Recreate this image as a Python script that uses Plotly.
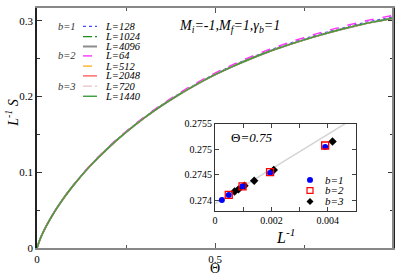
import plotly.graph_objects as go

# ---------------- data ----------------
theta = [0, 0.01, 0.025, 0.05, 0.075, 0.1, 0.15, 0.2, 0.25, 0.3, 0.35, 0.4, 0.45,
         0.5, 0.55, 0.6, 0.65, 0.7, 0.75, 0.8, 0.85, 0.9, 0.95, 1.0]
S_large = [0, 0.0133, 0.0281, 0.0485, 0.0659, 0.0815, 0.1088, 0.1322, 0.1529, 0.1714,
           0.1880, 0.2030, 0.2166, 0.2290, 0.2400, 0.2500, 0.2592, 0.2674, 0.2749,
           0.2818, 0.2882, 0.2940, 0.2990, 0.3035]
S_L128 = [0, 0.0133, 0.0281, 0.0486, 0.0660, 0.0817, 0.1091, 0.1326, 0.1534, 0.1720,
          0.1887, 0.2038, 0.2175, 0.2300, 0.2411, 0.2512, 0.2605, 0.2688, 0.2763,
          0.2833, 0.2897, 0.2956, 0.3007, 0.3052]
S_L64 = [0, 0.0134, 0.0282, 0.0487, 0.0662, 0.0820, 0.1095, 0.1331, 0.1540, 0.1727,
         0.1895, 0.2047, 0.2185, 0.2311, 0.2423, 0.2525, 0.2619, 0.2703, 0.2779,
         0.2850, 0.2915, 0.2975, 0.3027, 0.3073]

series = [
    # name, values, color, width, dash
    ("L=128", S_L128, "#4b4bff", 1.2, "dot"),
    ("L=1024", S_large, "#1e8c1e", 1.2, "dashdot"),
    ("L=4096", S_large, "#8c8c8c", 2.0, "solid"),
    ("L=64", S_L64, "#ff33ff", 1.4, "dash"),
    ("L=512", S_large, "#ffa500", 1.2, "dash"),
    ("L=2048", S_large, "#ff6060", 1.4, "solid"),
    ("L=720", S_large, "#e8c0c0", 1.2, "dashdot"),
    ("L=1440", S_large, "#3c9c3c", 1.4, "solid"),
]
groups = ["b=1", None, None, "b=2", None, None, "b=3", None]

# inset data (Theta = 0.75)
invL_b1 = [1/4096, 1/2048, 1/1024, 1/512, 1/256]
S_b1 = [0.27400, 0.27410, 0.27427, 0.27453, 0.27504]
invL_b2 = [1/2048, 1/1024, 1/512, 1/256]
S_b2 = [0.27410, 0.27427, 0.27455, 0.27507]
invL_b3 = [1/1440, 1/1200, 1/960, 1/720, 1/480, 1/240]
S_b3 = [0.27417, 0.27421, 0.27428, 0.27438, 0.27459, 0.27515]
fit_x = [0, 0.00462]
fit_y = [0.27393, 0.2755]

# ---------------- figure ----------------
W, H = 395, 275
L_, R_, T_, B_ = 37, 2, 3, 27
PW, PH = W - L_ - R_, H - T_ - B_


def xp(px):
    return (px - L_) / PW


def yp(py):
    return (H - B_ - py) / PH


serif = "Liberation Serif"
fig = go.Figure()

for name, vals, col, wd, dash in series:
    fig.add_trace(go.Scatter(x=theta, y=vals, mode="lines", name=name,
                             line=dict(color=col, width=wd, dash=dash, shape="spline"),
                             xaxis="x", yaxis="y", showlegend=False))

# inset
fig.add_trace(go.Scatter(x=fit_x, y=fit_y, mode="lines", line=dict(color="#d4d4d4", width=1.5),
                         xaxis="x2", yaxis="y2", showlegend=False))
fig.add_trace(go.Scatter(x=invL_b3, y=S_b3, mode="markers",
                         marker=dict(symbol="diamond", size=6.5, color="black"),
                         xaxis="x2", yaxis="y2", showlegend=False))
fig.add_trace(go.Scatter(x=invL_b1, y=S_b1, mode="markers",
                         marker=dict(symbol="circle", size=6, color="#0000ff"),
                         xaxis="x2", yaxis="y2", showlegend=False))
fig.add_trace(go.Scatter(x=invL_b2, y=S_b2, mode="markers",
                         marker=dict(symbol="square-open", size=7, color="#ff0000",
                                     line=dict(width=1.3)),
                         xaxis="x2", yaxis="y2", showlegend=False))

ann = []
shapes = []

# main legend (drawn keys)
rows = [21.7, 32.3, 42.3, 51.9, 62.3, 72.3, 82.7, 93.1]
for (name, vals, col, wd, dash), g, r in zip(series, groups, rows):
    shapes.append(dict(type="line", xref="paper", yref="paper",
                       x0=xp(83), x1=xp(97), y0=yp(r), y1=yp(r),
                       line=dict(color=col, width=wd, dash=dash)))
    ann.append(dict(x=xp(103), y=yp(r), xref="paper", yref="paper", xanchor="left",
                    yanchor="middle", showarrow=False, text="<i>" + name + "</i>",
                    font=dict(family=serif, size=10.5, color="black")))
    if g:
        ann.append(dict(x=xp(77.5), y=yp(r), xref="paper", yref="paper", xanchor="right",
                        yanchor="middle", showarrow=False, text="<i>" + g + "</i>",
                        font=dict(family=serif, size=10.5, color="#333333")))

# right border gray
shapes.append(dict(type="line", xref="x domain", yref="y domain", x0=1, x1=1, y0=0, y1=1,
                   line=dict(color="#888888", width=2), layer="above"))

# inset legend
ileg = [("b=1", "circle", 178.5), ("b=2", "square", 189.3), ("b=3", "diamond", 200.5)]
for txt, sym, r in ileg:
    cx, cy = 310, r
    if sym == "circle":
        shapes.append(dict(type="circle", xref="paper", yref="paper",
                           x0=xp(cx - 3), x1=xp(cx + 3), y0=yp(cy + 3), y1=yp(cy - 3),
                           fillcolor="#0000ff", line=dict(width=0)))
    elif sym == "square":
        shapes.append(dict(type="rect", xref="paper", yref="paper",
                           x0=xp(cx - 3), x1=xp(cx + 3), y0=yp(cy + 3), y1=yp(cy - 3),
                           fillcolor="white", line=dict(color="#ff0000", width=1.2)))
    else:
        path = "M {} {} L {} {} L {} {} L {} {} Z".format(
            xp(cx), yp(cy - 3.5), xp(cx + 3.5), yp(cy), xp(cx), yp(cy + 3.5), xp(cx - 3.5), yp(cy))
        shapes.append(dict(type="path", xref="paper", yref="paper", path=path,
                           fillcolor="black", line=dict(width=0)))
    ann.append(dict(x=xp(323), y=yp(r), xref="paper", yref="paper", xanchor="left",
                    yanchor="middle", showarrow=False, text="<i>" + txt + "</i>",
                    font=dict(family=serif, size=11, color="black")))

# texts
ann.append(dict(x=xp(177), y=yp(22), xref="paper", yref="paper", xanchor="left", yanchor="middle",
                showarrow=False,
                text="<i>M</i><sub><i>i</i></sub><i>=-1,M</i><sub><i>f</i></sub><i>=1,γ</i><sub><i>b</i></sub><i>=1</i>",
                font=dict(family=serif, size=14, color="black")))
ann.append(dict(x=xp(229), y=yp(135), xref="paper", yref="paper", xanchor="left", yanchor="middle",
                showarrow=False, text="Θ<i>=0.75</i>",
                font=dict(family=serif, size=13, color="black")))
ann.append(dict(x=xp(285), y=yp(236), xref="paper", yref="paper", xanchor="center", yanchor="middle",
                showarrow=False, text="<i>L</i><sup><i>-1</i></sup>",
                font=dict(family=serif, size=16, color="black")))
ann.append(dict(x=xp(215), y=yp(268.5), xref="paper", yref="paper", xanchor="center", yanchor="middle",
                showarrow=False, text="Θ",
                font=dict(family=serif, size=14, color="black")))
ann.append(dict(x=xp(12), y=yp(111), xref="paper", yref="paper", xanchor="center", yanchor="middle",
                showarrow=False, textangle=-90, text="<i>L</i><sup><i>-1</i></sup><i> S</i>",
                font=dict(family=serif, size=14, color="black")))

tickfont = dict(family=serif, size=11, color="black")
fig.update_layout(
    width=W, height=H, margin=dict(l=L_, r=R_, t=T_, b=B_),
    paper_bgcolor="white", plot_bgcolor="white",
    xaxis=dict(domain=[0, 1], range=[0, 1], tickvals=[0, 0.5, 1], ticktext=["0", "0.5", "1"],
               ticks="inside", ticklen=5, tickcolor="#555555", showgrid=False, zeroline=False,
               showline=True, linecolor="#888888", linewidth=2, mirror="ticks",
               minor=dict(tickvals=[0.25, 0.75], ticks="inside", ticklen=3, tickcolor="#555555"),
               tickfont=tickfont, anchor="y", automargin=False),
    yaxis=dict(domain=[0, 1], range=[0, 0.317], tickvals=[0, 0.1, 0.2, 0.3],
               ticktext=["0", "0.1", "0.2", "0.3"],
               ticks="inside", ticklen=5, tickcolor="#333333", showgrid=False, zeroline=False,
               showline=True, linecolor="#222222", linewidth=1.5, mirror="ticks",
               minor=dict(tickvals=[0.05, 0.15, 0.25], ticks="inside", ticklen=3, tickcolor="#333333"),
               tickfont=tickfont, anchor="x", automargin=False),
    xaxis2=dict(domain=[xp(215), xp(356)], range=[0, 0.005], tickvals=[0, 0.002, 0.004],
                ticktext=["0", "0.002", "0.004"], ticks="inside", ticklen=4, showgrid=False,
                zeroline=False, showline=True, linecolor="#333333", linewidth=1, mirror="ticks",
                minor=dict(tickvals=[0.001, 0.003], ticks="inside", ticklen=4),
                tickfont=dict(family=serif, size=10, color="black"), anchor="y2"),
    yaxis2=dict(domain=[yp(210), yp(121)], range=[0.27379, 0.2755],
                tickvals=[0.274, 0.2745, 0.275, 0.2755],
                ticktext=["0.274", "0.2745", "0.275", "0.2755"], ticks="inside", ticklen=4,
                showgrid=False, zeroline=False, showline=True, linecolor="#333333", linewidth=1,
                mirror="ticks", tickfont=dict(family=serif, size=10, color="black"), anchor="x2"),
    annotations=ann, shapes=shapes, showlegend=False,
)

fig.write_html("out.html", config={"displayModeBar": False},
               post_script="document.body.style.margin='0';document.body.style.overflow='hidden';")
